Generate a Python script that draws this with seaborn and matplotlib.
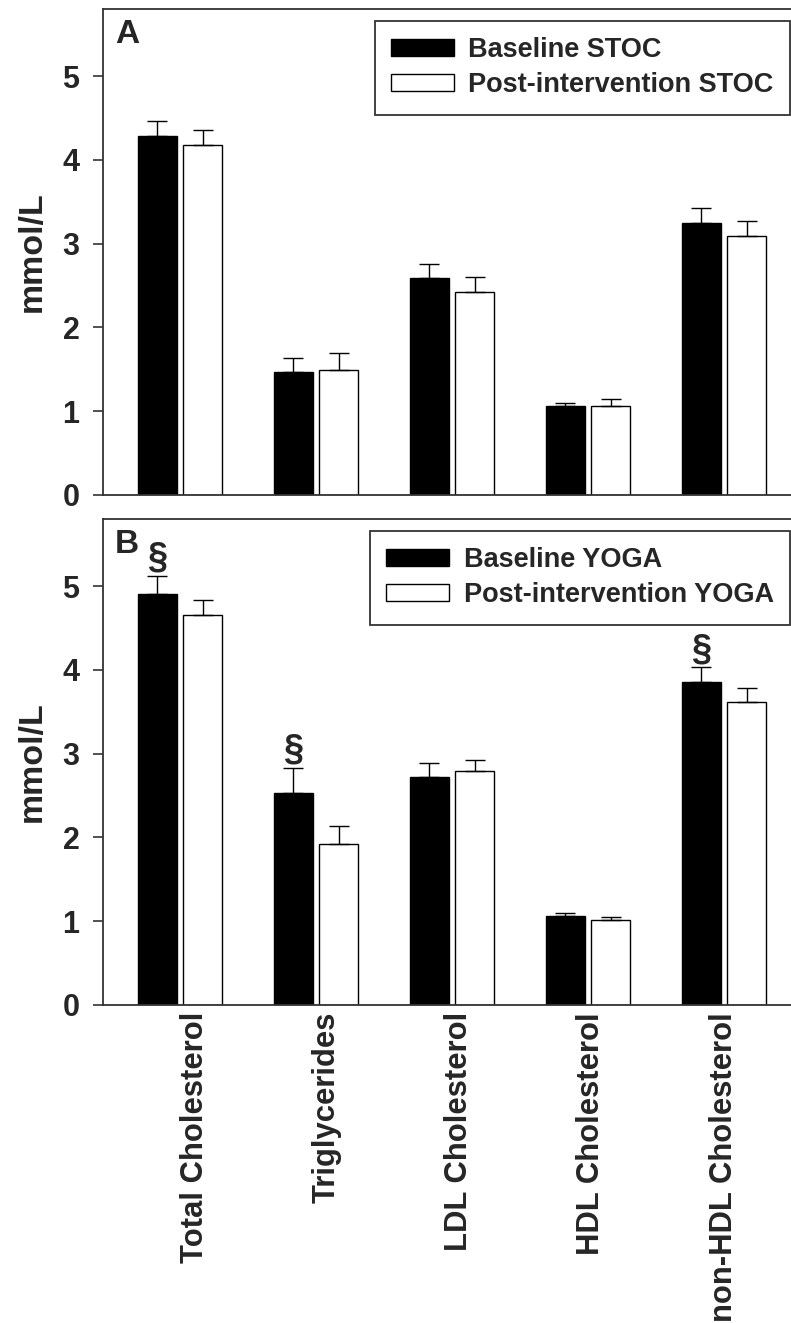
import numpy as np
import pandas as pd
import matplotlib
matplotlib.use('Agg')
import matplotlib.pyplot as plt
import seaborn as sns

# Lipid values (mmol/L), mean and SEM
categories = ['Total Cholesterol', 'Triglycerides', 'LDL Cholesterol',
              'HDL Cholesterol', 'non-HDL Cholesterol']

stoc_baseline = [4.28, 1.47, 2.59, 1.06, 3.25]
stoc_baseline_err = [0.18, 0.17, 0.17, 0.04, 0.18]
stoc_post = [4.18, 1.49, 2.42, 1.06, 3.09]
stoc_post_err = [0.18, 0.20, 0.18, 0.08, 0.18]

yoga_baseline = [4.91, 2.53, 2.72, 1.06, 3.85]
yoga_baseline_err = [0.21, 0.30, 0.17, 0.04, 0.18]
yoga_post = [4.65, 1.92, 2.79, 1.01, 3.62]
yoga_post_err = [0.18, 0.21, 0.13, 0.04, 0.16]

# section sign above baseline YOGA bars
yoga_sig = [True, True, False, False, True]

sns.set_style('ticks')
plt.rcParams['font.family'] = ['Liberation Sans', 'DejaVu Sans']
plt.rcParams['font.weight'] = 'bold'
plt.rcParams['axes.labelweight'] = 'bold'

EDGE = '#333333'


def draw_panel(ax, base, base_err, post, post_err, group, letter, sig=None, show_x=False):
    df = pd.DataFrame({
        'measure': categories * 2,
        'value': base + post,
        'condition': [f'Baseline {group}'] * len(categories)
                     + [f'Post-intervention {group}'] * len(categories),
    })
    sns.barplot(data=df, x='measure', y='value', hue='condition',
                palette=['black', 'white'], saturation=1, edgecolor='black',
                linewidth=1.0, width=0.667, gap=0.14, errorbar=None, ax=ax)

    # upper-only error bars on each bar
    for i, (cont, errs) in enumerate(zip(ax.containers, [base_err, post_err])):
        xs = [b.get_x() + b.get_width() / 2 for b in cont]
        ys = [b.get_height() for b in cont]
        ax.errorbar(xs, ys, yerr=[[0] * len(errs), errs], fmt='none',
                    ecolor='black', elinewidth=1.0, capsize=7.2, capthick=1.0,
                    zorder=1)
        if sig is not None and i == 0:
            for x, y, e, s in zip(xs, ys, errs, sig):
                if s:
                    ax.text(x, y + e, '§', ha='center', va='bottom',
                            fontsize=26, fontweight='bold')

    ax.set_ylim(0, 5.8)
    ax.set_xlim(-0.566, 4.493)
    ax.set_yticks([0, 1, 2, 3, 4, 5])
    # category labels sit slightly right of the bar pairs in the original
    ax.set_xticks(0.11 + 0.972 * np.arange(len(categories)), categories)
    ax.set_xlabel('')
    ax.set_ylabel('mmol/L', fontsize=24.5, fontweight='bold')
    ax.yaxis.set_label_coords(-0.08, 0.5)

    ax.tick_params(axis='y', length=7, width=1.2, pad=10, labelsize=22, color=EDGE)
    ax.tick_params(axis='x', length=0, pad=5, labelsize=22.3, labelrotation=90,
                   labelbottom=show_x)
    for side in ['left', 'top', 'bottom']:
        ax.spines[side].set_color(EDGE)
        ax.spines[side].set_linewidth(1.3)
    ax.spines['right'].set_visible(False)

    ax.text(0.0174, 0.979, letter, transform=ax.transAxes, fontsize=24,
            fontweight='bold', va='top', ha='left')

    leg = ax.legend(title=None, loc='upper right', bbox_to_anchor=(0.9985, 0.975),
                    frameon=True, fancybox=False, shadow=False, fontsize=19.5,
                    handlelength=2.3, handleheight=0.6, handletextpad=0.55,
                    borderpad=0.6, labelspacing=0.33, borderaxespad=0)
    leg.get_frame().set_edgecolor(EDGE)
    leg.get_frame().set_linewidth(1.3)
    leg.get_frame().set_alpha(1)


fig = plt.figure(figsize=(7.91, 13.23), dpi=100)
ax_a = fig.add_axes([0.1302, 0.6259, 0.8698, 0.3673])
ax_b = fig.add_axes([0.1302, 0.2404, 0.8698, 0.3673])

draw_panel(ax_a, stoc_baseline, stoc_baseline_err, stoc_post, stoc_post_err,
           'STOC', 'A')
draw_panel(ax_b, yoga_baseline, yoga_baseline_err, yoga_post, yoga_post_err,
           'YOGA', 'B', sig=yoga_sig, show_x=True)

fig.savefig('out.png', dpi=100)
plt.close(fig)
